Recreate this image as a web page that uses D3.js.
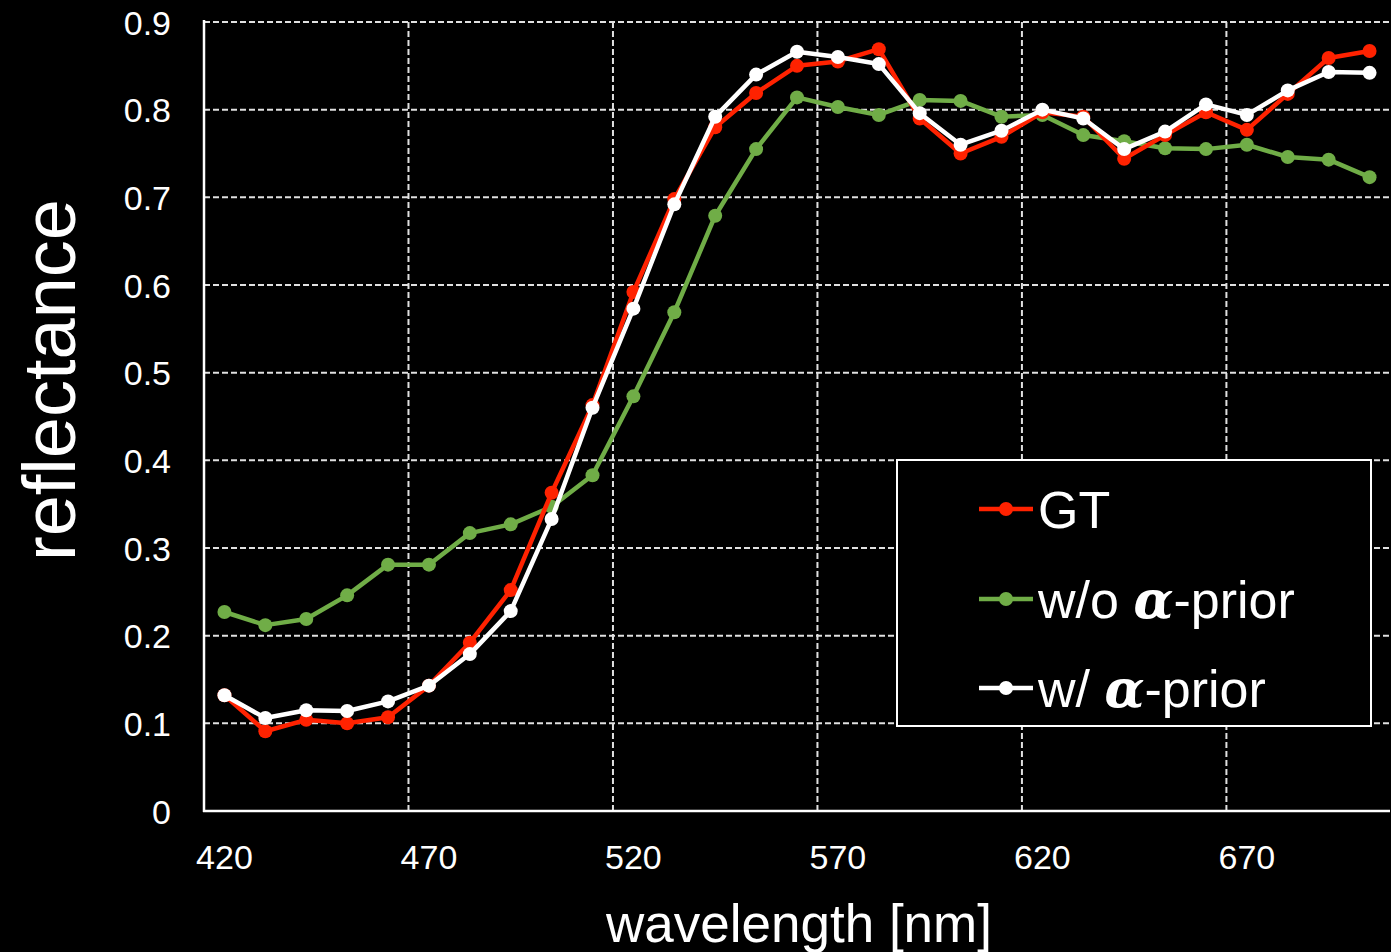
<!DOCTYPE html>
<html>
<head>
<meta charset="utf-8">
<script src="https://cdn.jsdelivr.net/npm/d3@7/dist/d3.min.js"></script>
<style>
  html, body { margin: 0; padding: 0; background: #000; }
  svg { display: block; font-family: Arial, "Liberation Sans", sans-serif; }
</style>
</head>
<body>
<div id="chart"></div>
<script>
// longueurs d'onde (nm), une catégorie tous les 10 nm
var wavelengths = [420,430,440,450,460,470,480,490,500,510,520,530,540,550,560,570,580,590,600,610,620,630,640,650,660,670,680,690,700];
var xTickLabels = [420,470,520,570,620,670];
var yTicks = [0,0.1,0.2,0.3,0.4,0.5,0.6,0.7,0.8,0.9];

// séries
var gt = [0.132,0.091,0.104,0.100,0.107,0.143,0.192,0.252,0.363,0.463,0.592,0.698,0.780,0.819,0.850,0.855,0.869,0.790,0.750,0.769,0.797,0.792,0.744,0.771,0.797,0.777,0.818,0.859,0.867];
var woPrior = [0.227,0.212,0.219,0.246,0.281,0.281,0.317,0.327,0.347,0.383,0.473,0.569,0.679,0.755,0.814,0.803,0.794,0.811,0.810,0.792,0.794,0.771,0.764,0.756,0.755,0.760,0.746,0.743,0.723];
var wPrior = [0.132,0.106,0.115,0.114,0.125,0.143,0.179,0.228,0.333,0.460,0.573,0.692,0.792,0.840,0.866,0.860,0.852,0.796,0.760,0.776,0.800,0.790,0.755,0.775,0.806,0.794,0.822,0.843,0.842];

var seriesNames = ["GT", "w/o", "w/"];
var seriesColors = ["#ff2200", "#70ad47", "#ffffff"];
var seriesValues = [gt, woPrior, wPrior];

var W = 1391, H = 952;
var svg = d3.select('#chart').append('svg').attr('width', W).attr('height', H);
svg.append('rect').attr('width', W).attr('height', H).attr('fill', '#000');

var x = d3.scaleBand().domain(wavelengths).range([204, 1390]).padding(0);
var y = d3.scaleLinear().domain([0, 0.9]).range([811, 22]);
var bw = x.bandwidth();

// grille horizontale (pointillés)
svg.append('g').selectAll('line').data(yTicks.filter(function(d){ return d > 0; }))
  .enter().append('line')
  .attr('x1', 204).attr('x2', 1390)
  .attr('y1', function(d){ return y(d); }).attr('y2', function(d){ return y(d); })
  .attr('stroke', '#e0e0e0').attr('stroke-width', 2).attr('stroke-dasharray', '6,3');

// grille verticale entre les catégories, toutes les 5 catégories
var vGrid = wavelengths.filter(function(d, i){ return i > 0 && i % 5 === 0; });
svg.append('g').selectAll('line').data(vGrid)
  .enter().append('line')
  .attr('x1', function(d){ return x(d); }).attr('x2', function(d){ return x(d); })
  .attr('y1', 22).attr('y2', 811)
  .attr('stroke', '#e0e0e0').attr('stroke-width', 2).attr('stroke-dasharray', '6,3');

// axes
var yAxis = d3.axisLeft(y).tickValues(yTicks).tickSize(0).tickPadding(0)
  .tickFormat(function(d){ return d === 0 ? "0" : d3.format(".1f")(d); });
var gy = svg.append('g').attr('transform', 'translate(171,0)').call(yAxis);
gy.select('.domain').remove();
gy.selectAll('text').attr('fill', '#fff').style('font-size', '34px')
  .style('font-family', 'Arial, "Liberation Sans", sans-serif').attr('dy', '0.36em');

var xAxis = d3.axisBottom(x).tickValues(xTickLabels).tickSize(0).tickPadding(0);
var gx = svg.append('g').attr('transform', 'translate(0,845)').call(xAxis);
gx.select('.domain').remove();
gx.selectAll('text').attr('fill', '#fff').style('font-size', '34px')
  .style('font-family', 'Arial, "Liberation Sans", sans-serif').attr('dy', '0.71em');

svg.append('line').attr('x1', 204).attr('x2', 204).attr('y1', 20).attr('y2', 812)
  .attr('stroke', '#fff').attr('stroke-width', 2.5);
svg.append('line').attr('x1', 203).attr('x2', 1390).attr('y1', 811).attr('y2', 811)
  .attr('stroke', '#fff').attr('stroke-width', 2.5);

// courbes
var line = d3.line()
  .x(function(d, i){ return x(wavelengths[i]) + bw / 2; })
  .y(function(d){ return y(d); });

[1, 0, 2].forEach(function(k){
  var g = svg.append('g');
  g.append('path').datum(seriesValues[k])
    .attr('d', line).attr('fill', 'none')
    .attr('stroke', seriesColors[k]).attr('stroke-width', 4.5).attr('stroke-linejoin', 'round');
  g.selectAll('circle').data(seriesValues[k]).enter().append('circle')
    .attr('cx', function(d, i){ return x(wavelengths[i]) + bw / 2; })
    .attr('cy', function(d){ return y(d); })
    .attr('r', 7).attr('fill', seriesColors[k]);
});

// légende
var leg = svg.append('g');
leg.append('rect').attr('x', 897).attr('y', 460).attr('width', 474).attr('height', 266)
  .attr('fill', '#000').attr('stroke', '#fff').attr('stroke-width', 2);
var rowsY = [509, 599, 688];
seriesNames.forEach(function(name, k){
  var ry = rowsY[k];
  leg.append('line').attr('x1', 979).attr('x2', 1033).attr('y1', ry).attr('y2', ry)
    .attr('stroke', seriesColors[k]).attr('stroke-width', 4.5);
  leg.append('circle').attr('cx', 1006).attr('cy', ry).attr('r', 7).attr('fill', seriesColors[k]);
  var t = leg.append('text').attr('x', 1038).attr('y', ry).attr('dy', '0.36em')
    .attr('fill', '#fff').style('font-size', '52px');
  if (k === 0) {
    t.text(name);
  } else {
    t.append('tspan').text(name + ' ');
    t.append('tspan').text('\u03B1')
      .style('font-family', '"DejaVu Serif", "Liberation Serif", serif')
      .style('font-style', 'italic').style('font-weight', 'bold');
    t.append('tspan').text('-prior');
  }
});

// titres des axes
svg.append('text').attr('x', 799).attr('y', 942).attr('text-anchor', 'middle')
  .attr('fill', '#fff').style('font-size', '53px').text('wavelength [nm]');
svg.append('text').attr('transform', 'translate(75,380) rotate(-90)').attr('text-anchor', 'middle')
  .attr('fill', '#fff').style('font-size', '74px').text('reflectance');
</script>
</body>
</html>
